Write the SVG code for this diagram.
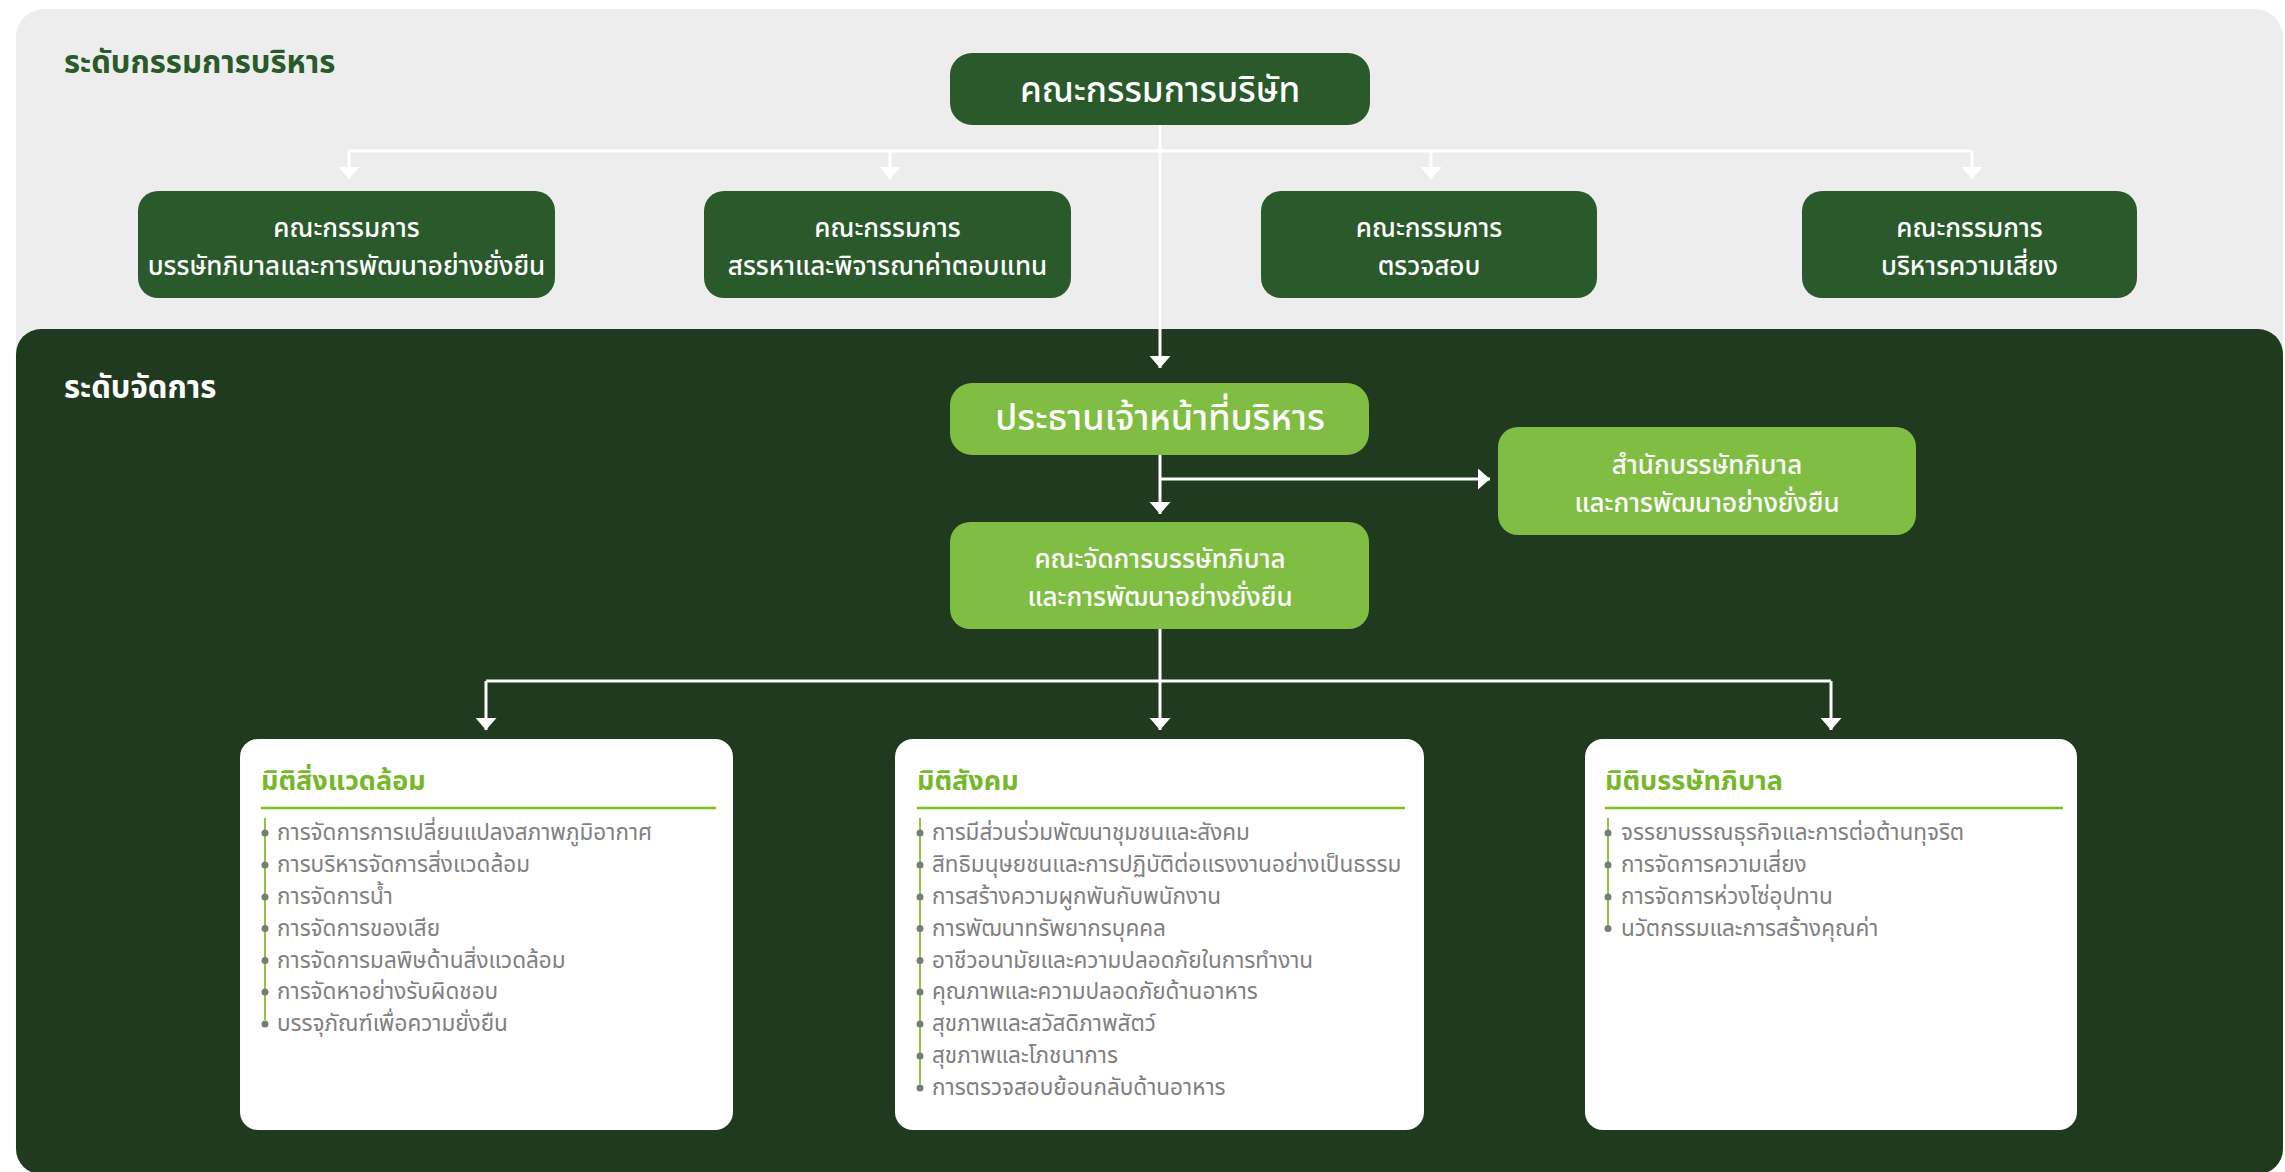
<svg xmlns="http://www.w3.org/2000/svg" width="2285" height="1172" viewBox="0 0 2285 1172">
<defs>
<style>
.th{font-family:"Noto Sans Thai","Noto Sans","DejaVu Sans",sans-serif;}
.wt{fill:#ffffff;text-anchor:middle;font-weight:500;}
.hd{font-weight:700;}
.ttl{fill:#76b82a;font-weight:700;font-size:27px;}
.it{fill:#808080;font-size:22.5px;}
.dk{fill:#2a5a2b;}
.lt{fill:#7fbe42;}
.card{fill:#ffffff;}
.conn{stroke:#ffffff;stroke-width:3;fill:none;}
.ul{stroke:#7dc01e;stroke-width:2.5;}
.bl{stroke:#8cc63f;stroke-width:2;}
.dot{fill:#7a7a7a;}
</style>
<marker id="ah" viewBox="0 0 12 21" refX="12" refY="10.5" markerWidth="12" markerHeight="21" markerUnits="userSpaceOnUse" orient="auto">
<path d="M0,0 L12,10.5 L0,21 Z" fill="#ffffff"/>
</marker>
</defs>

<g id="panels">
<rect x="16" y="9" width="2267" height="1163" rx="28" fill="#ededed"/>
<rect x="16" y="329" width="2267" height="845" rx="25" fill="#1f3a1f"/>
<text class="th hd" x="64" y="73" font-size="31" fill="#2a5a2b">ระดับกรรมการบริหาร</text>
<text class="th hd" x="64" y="398" font-size="31" fill="#ffffff">ระดับจัดการ</text>
</g>

<g id="connectors">
<path class="conn" d="M1160,125 V368" marker-end="url(#ah)"/>
<path class="conn" d="M349,151 H1972"/>
<path class="conn" d="M349,151 V179" marker-end="url(#ah)"/>
<path class="conn" d="M890,151 V179" marker-end="url(#ah)"/>
<path class="conn" d="M1431,151 V179" marker-end="url(#ah)"/>
<path class="conn" d="M1972,151 V179" marker-end="url(#ah)"/>
<path class="conn" d="M1160,455 V514" marker-end="url(#ah)"/>
<path class="conn" d="M1160,479 H1490" marker-end="url(#ah)"/>
<path class="conn" d="M1160,629 V730" marker-end="url(#ah)"/>
<path class="conn" d="M486,681 H1831"/>
<path class="conn" d="M486,681 V730" marker-end="url(#ah)"/>
<path class="conn" d="M1831,681 V730" marker-end="url(#ah)"/>
</g>

<g id="board">
<rect class="dk" x="950" y="53" width="420" height="72" rx="22"/>
<text class="th wt" x="1160" y="102" font-size="35">คณะกรรมการบริษัท</text>
</g>

<g id="committee-governance">
<rect class="dk" x="138" y="191" width="417" height="107" rx="20"/>
<text class="th wt" x="346.5" y="237" font-size="26">คณะกรรมการ</text>
<text class="th wt" x="346.5" y="275" font-size="26">บรรษัทภิบาลและการพัฒนาอย่างยั่งยืน</text>
</g>

<g id="committee-nomination">
<rect class="dk" x="704" y="191" width="367" height="107" rx="20"/>
<text class="th wt" x="887.5" y="237" font-size="26">คณะกรรมการ</text>
<text class="th wt" x="887.5" y="275" font-size="26">สรรหาและพิจารณาค่าตอบแทน</text>
</g>

<g id="committee-audit">
<rect class="dk" x="1261" y="191" width="336" height="107" rx="20"/>
<text class="th wt" x="1429" y="237" font-size="26">คณะกรรมการ</text>
<text class="th wt" x="1429" y="275" font-size="26">ตรวจสอบ</text>
</g>

<g id="committee-risk">
<rect class="dk" x="1802" y="191" width="335" height="107" rx="20"/>
<text class="th wt" x="1969.5" y="237" font-size="26">คณะกรรมการ</text>
<text class="th wt" x="1969.5" y="275" font-size="26">บริหารความเสี่ยง</text>
</g>

<g id="ceo">
<rect class="lt" x="950" y="383" width="419" height="72" rx="22"/>
<text class="th wt" x="1160" y="430" font-size="36">ประธานเจ้าหน้าที่บริหาร</text>
</g>

<g id="office">
<rect class="lt" x="1498" y="427" width="418" height="108" rx="20"/>
<text class="th wt" x="1707" y="474" font-size="26">สำนักบรรษัทภิบาล</text>
<text class="th wt" x="1707" y="512" font-size="26">และการพัฒนาอย่างยั่งยืน</text>
</g>

<g id="management-committee">
<rect class="lt" x="950" y="522" width="419" height="107" rx="20"/>
<text class="th wt" x="1160" y="568" font-size="26">คณะจัดการบรรษัทภิบาล</text>
<text class="th wt" x="1160" y="606" font-size="26">และการพัฒนาอย่างยั่งยืน</text>
</g>

<g id="card-environment">
<rect class="card" x="240" y="739" width="493" height="391" rx="18"/>
<text class="th ttl" x="261" y="790">มิติสิ่งแวดล้อม</text>
<line class="ul" x1="261" y1="808" x2="716" y2="808"/>
<line class="bl" x1="265" y1="818" x2="265" y2="1020"/>
<g class="dot">
<circle cx="265" cy="833" r="3.5"/><circle cx="265" cy="865" r="3.5"/><circle cx="265" cy="897" r="3.5"/><circle cx="265" cy="928.5" r="3.5"/><circle cx="265" cy="960.5" r="3.5"/><circle cx="265" cy="992" r="3.5"/><circle cx="265" cy="1024" r="3.5"/>
</g>
<text class="th it" x="277" y="840">การจัดการการเปลี่ยนแปลงสภาพภูมิอากาศ</text>
<text class="th it" x="277" y="872">การบริหารจัดการสิ่งแวดล้อม</text>
<text class="th it" x="277" y="904">การจัดการน้ำ</text>
<text class="th it" x="277" y="935.5">การจัดการของเสีย</text>
<text class="th it" x="277" y="967.5">การจัดการมลพิษด้านสิ่งแวดล้อม</text>
<text class="th it" x="277" y="999">การจัดหาอย่างรับผิดชอบ</text>
<text class="th it" x="277" y="1031">บรรจุภัณฑ์เพื่อความยั่งยืน</text>
</g>

<g id="card-social">
<rect class="card" x="895" y="739" width="529" height="391" rx="18"/>
<text class="th ttl" x="917" y="790">มิติสังคม</text>
<line class="ul" x1="917" y1="808" x2="1405" y2="808"/>
<line class="bl" x1="920" y1="818" x2="920" y2="1084"/>
<g class="dot">
<circle cx="920" cy="833" r="3.5"/><circle cx="920" cy="865" r="3.5"/><circle cx="920" cy="897" r="3.5"/><circle cx="920" cy="928.5" r="3.5"/><circle cx="920" cy="960.5" r="3.5"/><circle cx="920" cy="992" r="3.5"/><circle cx="920" cy="1024" r="3.5"/><circle cx="920" cy="1056" r="3.5"/><circle cx="920" cy="1088" r="3.5"/>
</g>
<text class="th it" x="932" y="840">การมีส่วนร่วมพัฒนาชุมชนและสังคม</text>
<text class="th it" x="932" y="872">สิทธิมนุษยชนและการปฏิบัติต่อแรงงานอย่างเป็นธรรม</text>
<text class="th it" x="932" y="904">การสร้างความผูกพันกับพนักงาน</text>
<text class="th it" x="932" y="935.5">การพัฒนาทรัพยากรบุคคล</text>
<text class="th it" x="932" y="967.5">อาชีวอนามัยและความปลอดภัยในการทำงาน</text>
<text class="th it" x="932" y="999">คุณภาพและความปลอดภัยด้านอาหาร</text>
<text class="th it" x="932" y="1031">สุขภาพและสวัสดิภาพสัตว์</text>
<text class="th it" x="932" y="1063">สุขภาพและโภชนาการ</text>
<text class="th it" x="932" y="1095">การตรวจสอบย้อนกลับด้านอาหาร</text>
</g>

<g id="card-governance">
<rect class="card" x="1585" y="739" width="492" height="391" rx="18"/>
<text class="th ttl" x="1605" y="790">มิติบรรษัทภิบาล</text>
<line class="ul" x1="1605" y1="808" x2="2063" y2="808"/>
<line class="bl" x1="1608" y1="818" x2="1608" y2="925"/>
<g class="dot">
<circle cx="1608" cy="833" r="3.5"/><circle cx="1608" cy="865" r="3.5"/><circle cx="1608" cy="897" r="3.5"/><circle cx="1608" cy="928.5" r="3.5"/>
</g>
<text class="th it" x="1621" y="840">จรรยาบรรณธุรกิจและการต่อต้านทุจริต</text>
<text class="th it" x="1621" y="872">การจัดการความเสี่ยง</text>
<text class="th it" x="1621" y="904">การจัดการห่วงโซ่อุปทาน</text>
<text class="th it" x="1621" y="935.5">นวัตกรรมและการสร้างคุณค่า</text>
</g>
</svg>
